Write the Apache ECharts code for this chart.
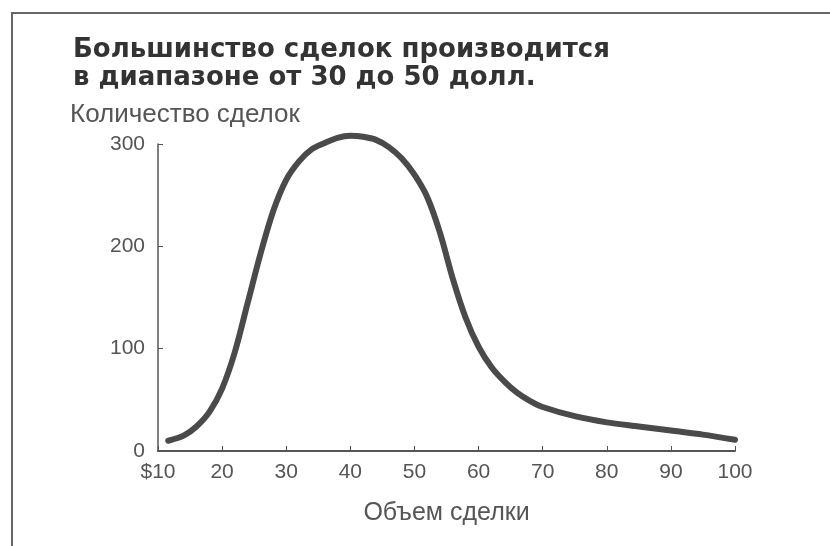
<!DOCTYPE html>
<html>
<head>
<meta charset="utf-8">
<script src="https://cdn.jsdelivr.net/npm/echarts@6/dist/echarts.min.js"></script>
<style>
html,body{margin:0;padding:0;background:#fff;}
#chart{width:830px;height:546px;}
</style>
</head>
<body>
<div id="chart"></div>
<script>
// Data
const titleLines = ['Большинство сделок производится', 'в диапазоне от 30 до 50 долл.'];
const yAxisName = 'Количество сделок';
const xAxisName = 'Объем сделки';
const xTicks = [10, 20, 30, 40, 50, 60, 70, 80, 90, 100];
const yTicks = [0, 100, 200, 300];
const dealSize = [11.6, 14, 16, 18, 20, 22, 24, 26, 28, 30, 32, 34, 36, 38, 40, 42, 44, 46, 48, 50, 52, 54, 56, 58, 60, 62, 64, 66, 68, 70, 75, 80, 85, 90, 95, 100];
const dealCount = [10, 15, 24, 38, 61, 97, 145, 193, 235, 265, 283, 295, 301, 306, 308, 307, 304, 297, 286, 270, 248, 213, 168, 130, 102, 82, 68, 57, 49, 43, 34, 28, 24, 20, 16, 11];

const chart = echarts.init(document.getElementById('chart'));
const textColor = '#555';
const axisColor = '#555';

chart.setOption({
  backgroundColor: '#fff',
  animation: false,
  title: {
    text: titleLines.join('\n'),
    left: 68,
    top: 31,
    textStyle: {
      fontFamily: 'DejaVu Sans',
      fontWeight: 'bold',
      fontSize: 26,
      lineHeight: 28,
      color: '#333'
    }
  },
  graphic: [{
    type: 'polyline',
    shape: { points: [[12, 546], [12, 13], [830, 13]] },
    style: { stroke: '#666', lineWidth: 2, fill: null },
    silent: true
  }],
  grid: { left: 158, right: 95, top: 144, bottom: 95, containLabel: false, outerBoundsMode: 'none' },
  xAxis: {
    type: 'value',
    min: xTicks[0],
    max: xTicks[xTicks.length - 1],
    interval: 10,
    name: xAxisName,
    nameLocation: 'middle',
    nameGap: 50,
    nameTextStyle: { fontFamily: 'Liberation Sans', fontSize: 25, color: textColor },
    axisLine: { lineStyle: { color: axisColor, width: 2 } },
    axisTick: { inside: true, length: 5, lineStyle: { color: axisColor } },
    splitLine: { show: false },
    axisLabel: {
      margin: 11,
      fontFamily: 'Liberation Sans',
      fontSize: 21,
      color: textColor,
      formatter: v => (v === xTicks[0] ? '$' + v : String(v))
    }
  },
  yAxis: {
    type: 'value',
    min: yTicks[0],
    max: yTicks[yTicks.length - 1],
    interval: 100,
    name: yAxisName,
    nameLocation: 'end',
    nameGap: 16,
    nameTextStyle: {
      fontFamily: 'Liberation Sans',
      fontSize: 26,
      color: textColor,
      align: 'left',
      padding: [0, 0, 0, -88]
    },
    axisLine: { show: true, lineStyle: { color: axisColor, width: 1.5 } },
    axisTick: { show: true, inside: true, length: 5, lineStyle: { color: axisColor } },
    splitLine: { show: false },
    axisLabel: {
      margin: 13,
      fontFamily: 'Liberation Sans',
      fontSize: 21,
      color: textColor
    }
  },
  series: [{
    type: 'line',
    data: dealSize.map((x, i) => [x, dealCount[i]]),
    smooth: 0.3,
    showSymbol: false,
    clip: false,
    lineStyle: { color: '#4a4a4a', width: 6, cap: 'round' }
  }]
});
</script>
</body>
</html>
